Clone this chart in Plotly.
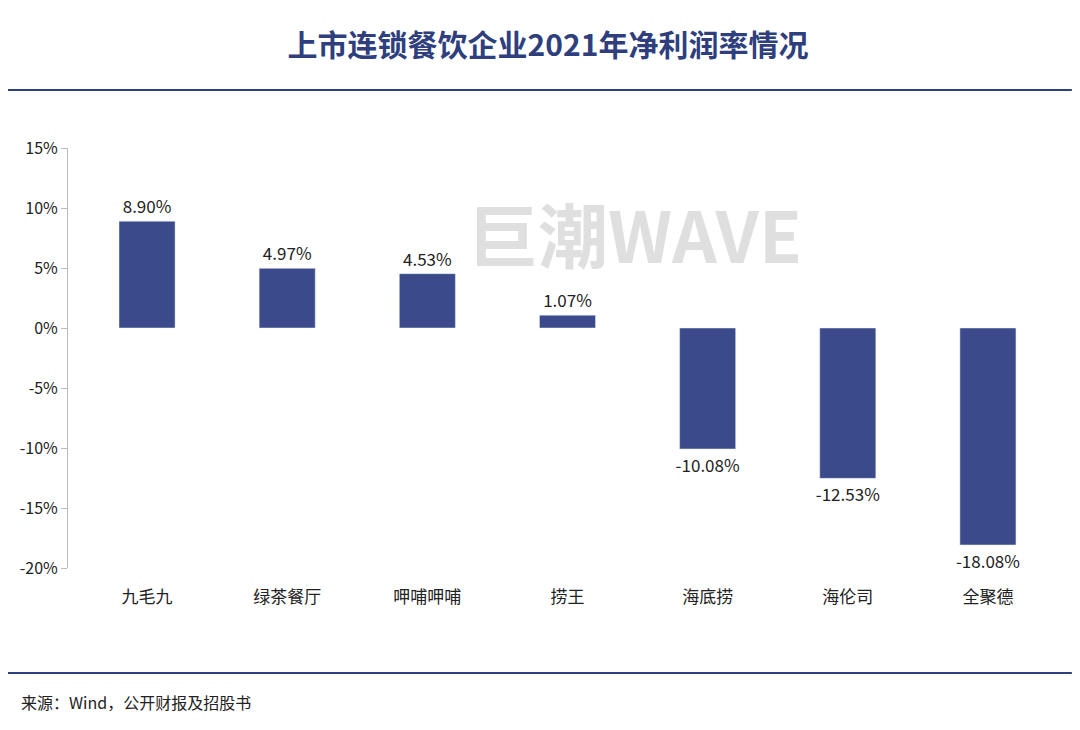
import plotly.graph_objects as go

companies = ["九毛九", "绿茶餐厅", "呷哺呷哺", "捞王", "海底捞", "海伦司", "全聚德"]
net_margin = [8.90, 4.97, 4.53, 1.07, -10.08, -12.53, -18.08]
labels = [f"{v:.2f}%" for v in net_margin]

ytick_vals = [15, 10, 5, 0, -5, -10, -15, -20]
ytick_text = [f"{v}%" for v in ytick_vals]

navy = "#3a4a8a"
font = "Noto Sans CJK SC"
xrange = [-0.564, 6.5]

fig = go.Figure()
fig.add_trace(go.Bar(
    x=list(range(len(companies))), y=net_margin, marker_color=navy,
    text=labels, textposition="outside", cliponaxis=False,
    constraintext="none", textfont=dict(size=17, color="#222"),
))

# plot area in px: x 68..1058, y 148..568 (page is offset ~8px)
fig.update_layout(
    width=1080, height=730,
    margin=dict(l=60, r=30, t=140, b=170),
    plot_bgcolor="white", paper_bgcolor="white",
    font=dict(family=font, color="#222"),
    bargap=0.6, showlegend=False,
    xaxis=dict(range=xrange, tickvals=list(range(len(companies))),
               ticktext=companies, showline=False, showgrid=False,
               ticks="outside", ticklen=14, tickcolor="rgba(0,0,0,0)",
               tickfont=dict(size=17), zeroline=False),
    xaxis2=dict(overlaying="x", anchor="free", position=20 / 35,
                range=xrange, showline=True, linecolor="#bbb",
                ticks="outside", ticklen=6, tickcolor="#bbb",
                tickvals=[i + 0.5 for i in range(-1, 7)],
                showticklabels=False, showgrid=False),
    yaxis=dict(range=[-20, 15], tickvals=ytick_vals, ticktext=ytick_text,
               showline=True, linecolor="#bbb", ticks="outside", ticklen=6,
               tickcolor="#bbb", showgrid=False, zeroline=False,
               tickfont=dict(size=16)),
    title=dict(text="<b>上市连锁餐饮企业2021年净利润率情况</b>", x=0.5,
               y=1 - 37 / 730, yanchor="middle", yref="container",
               xanchor="center", font=dict(size=30, color="#2f3f7e", family=font)),
    shapes=[
        dict(type="line", xref="paper", yref="paper", x0=-0.061, x1=1.014,
             y0=1 + 58 / 420, y1=1 + 58 / 420, line=dict(color="#2f3f7e", width=2)),
        dict(type="line", xref="paper", yref="paper", x0=-0.061, x1=1.014,
             y0=-105 / 420, y1=-105 / 420, line=dict(color="#2f3f7e", width=2)),
    ],
    annotations=[
        dict(text="<b>巨潮WAVE</b>", xref="paper", yref="paper", x=0.573,
             y=1 - 85 / 420, yanchor="middle", showarrow=False,
             font=dict(size=70, color="rgba(175,175,175,0.4)", family=font)),
        dict(text="来源：Wind，公开财报及招股书", xref="paper", yref="paper",
             x=-0.05, y=-134 / 420, xanchor="left", yanchor="middle", showarrow=False,
             font=dict(size=16, color="#222")),
    ],
)
fig.write_html("out.html")
